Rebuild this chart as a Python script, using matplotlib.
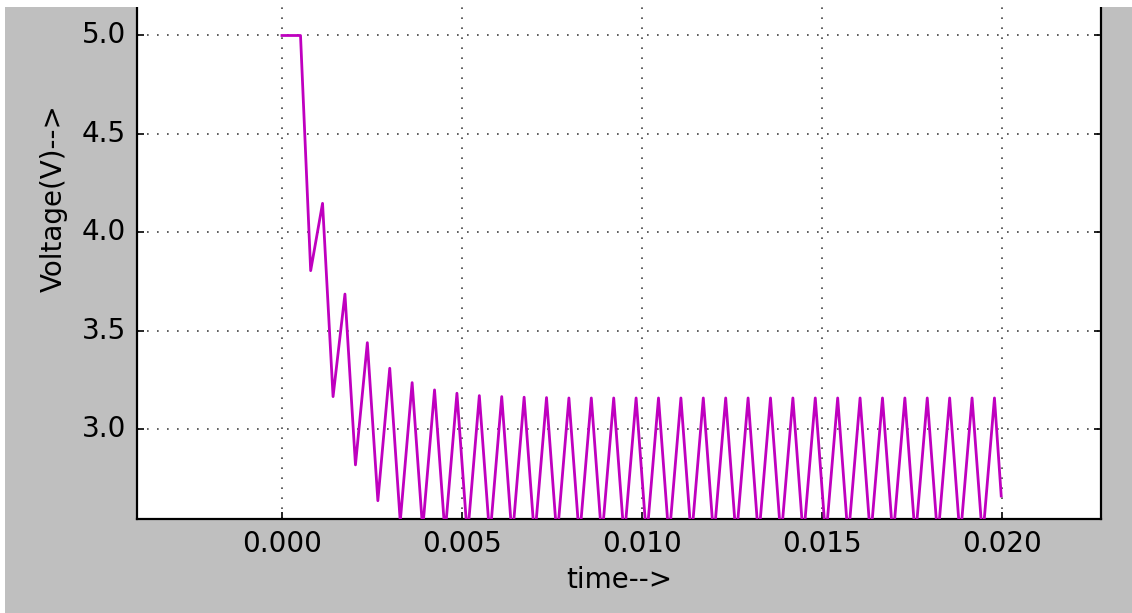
import matplotlib
matplotlib.use("Agg")
import matplotlib.pyplot as plt
from matplotlib.patches import Rectangle

# vertices of the voltage trace (time in s, voltage in V)
time_s = [
    0.0, 0.000515,
    0.000797, 0.001127, 0.001419, 0.001749, 0.002041, 0.002371,
    0.002663, 0.002993, 0.003285, 0.003615, 0.003907, 0.004237,
    0.004529, 0.004859, 0.005151, 0.005481, 0.005773, 0.006103,
    0.006395, 0.006725, 0.007017, 0.007347, 0.007639, 0.007969,
    0.008261, 0.008591, 0.008883, 0.009213, 0.009505, 0.009835,
    0.010127, 0.010457, 0.010749, 0.011079, 0.011371, 0.011701,
    0.011993, 0.012323, 0.012615, 0.012945, 0.013237, 0.013567,
    0.013859, 0.014189, 0.014481, 0.014811, 0.015103, 0.015433,
    0.015725, 0.016055, 0.016347, 0.016677, 0.016969, 0.017299,
    0.017591, 0.017921, 0.018213, 0.018543, 0.018835, 0.019165,
    0.019457, 0.019787, 0.019975,
]
voltage_v = [
    5.0, 5.0,
    3.805, 4.147, 3.165, 3.686, 2.818, 3.439,
    2.636, 3.309, 2.53, 3.236, 2.49, 3.199,
    2.465, 3.182, 2.45, 3.170, 2.445, 3.165,
    2.44, 3.162, 2.44, 3.160, 2.44, 3.158,
    2.44, 3.158, 2.44, 3.158, 2.44, 3.158,
    2.44, 3.158, 2.44, 3.158, 2.44, 3.158,
    2.44, 3.158, 2.44, 3.158, 2.44, 3.158,
    2.44, 3.158, 2.44, 3.158, 2.44, 3.158,
    2.44, 3.158, 2.44, 3.158, 2.44, 3.158,
    2.44, 3.158, 2.44, 3.158, 2.44, 3.158,
    2.44, 3.158, 2.66,
]
x_ticks = [0.000, 0.005, 0.010, 0.015, 0.020]
x_tick_labels = ["0.000", "0.005", "0.010", "0.015", "0.020"]
y_ticks = [3.0, 3.5, 4.0, 4.5, 5.0]
y_tick_labels = ["3.0", "3.5", "4.0", "4.5", "5.0"]

plt.style.use("classic")
plt.rcParams["font.family"] = ["DejaVu Sans"]

W, H = 1132, 613
fig = plt.figure(figsize=(W / 100, H / 100), dpi=100, facecolor="#bfbfbf")

# axes box in pixel coordinates (top extends above the visible crop)
left_px, right_px, bottom_px, top_px = 137, 1101, 519, -123
ax = fig.add_axes([left_px / W, (H - bottom_px) / H,
                   (right_px - left_px) / W, (bottom_px - top_px) / H])
ax.set_facecolor("white")

ax.plot(time_s, voltage_v, color=(0.75, 0.0, 0.75), linewidth=2.0, zorder=3)

ax.set_xlim(-0.004026, 0.022746)
ax.set_ylim(2.543, 5.0 + (35.5 + 123) / 196.8)

ax.set_xticks(x_ticks)
ax.set_xticklabels(x_tick_labels)
ax.set_yticks(y_ticks)
ax.set_yticklabels(y_tick_labels)

ax.grid(True, color="black", linestyle=(0, (1.2, 6.0)), linewidth=1.1, alpha=0.8)
ax.tick_params(axis="both", which="major", direction="in", length=5,
               width=1.2, labelsize=20, pad=8, color="black",
               top=True, right=True)
ax.tick_params(axis="both", which="minor", length=0)
for sp in ax.spines.values():
    sp.set_linewidth(1.6)

ax.set_xlabel("time-->", fontsize=20, labelpad=6)
ax.set_ylabel("Voltage(V)-->", fontsize=20, labelpad=10)

# white page strips around the crop
fig.patches.append(Rectangle((0, 1 - 7 / H), 1, 7 / H, transform=fig.transFigure,
                             facecolor="white", edgecolor="none", zorder=10))
fig.patches.append(Rectangle((0, 0), 5 / W, 1, transform=fig.transFigure,
                             facecolor="white", edgecolor="none", zorder=10))

fig.savefig("out.png", dpi=100, facecolor=fig.get_facecolor())
